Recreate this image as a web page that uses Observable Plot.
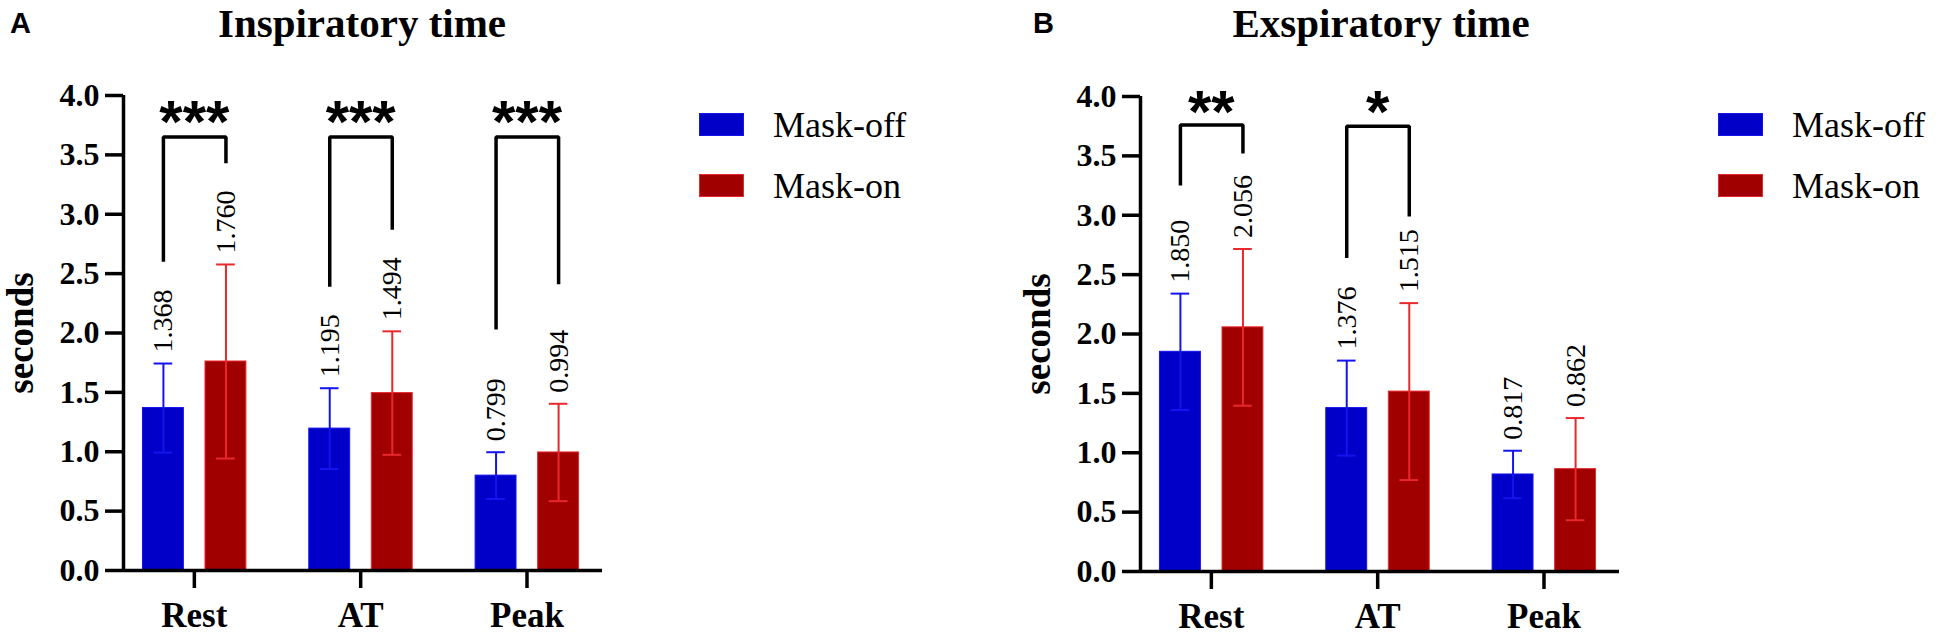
<!DOCTYPE html>
<html>
<head>
<meta charset="utf-8">
<script src="https://cdn.jsdelivr.net/npm/d3@7"></script>
<script src="https://cdn.jsdelivr.net/npm/@observablehq/plot@0.6"></script>
<style>
  html, body { margin: 0; padding: 0; background: #fff; }
  #root { position: relative; width: 1948px; height: 637px; background: #fff; overflow: hidden; }
  .abs { position: absolute; white-space: nowrap; line-height: 1; color: #000; }
  .title { font-family: "Liberation Serif", "Times New Roman", serif; font-weight: bold; font-size: 41px; line-height: 1.15; transform: translateX(-50%); }
  .letter { font-family: "Liberation Sans", Arial, sans-serif; font-weight: bold; font-size: 29px; }
  .legtext { font-family: "Liberation Serif", "Times New Roman", serif; font-size: 36px; }
  .swatch { position: absolute; width: 45px; height: 23px; box-sizing: border-box; }
  svg { position: absolute; }
</style>
</head>
<body>
<div id="root"></div>
<script>
// ---------- data ----------
const categories = ["Rest", "AT", "Peak"];
const groups = ["Mask-off", "Mask-on"];
const yTicks = [0, 0.5, 1, 1.5, 2, 2.5, 3, 3.5, 4];

// Inspiratory time (A)
const inspMaskOff   = [1.368, 1.195, 0.799];
const inspMaskOn    = [1.760, 1.494, 0.994];
const inspSdOff     = [0.375, 0.340, 0.197];
const inspSdOn      = [0.817, 0.520, 0.410];
const inspSig       = ["***", "***", "***"];
const inspBrTop     = [3.65, 3.65, 3.65];
const inspBrLeft    = [2.60, 2.39, 2.03];
const inspBrRight   = [3.43, 2.87, 2.41];
const inspStarY     = [3.90, 3.90, 3.90];

// Exspiratory time (B)
const expMaskOff    = [1.850, 1.376, 0.817];
const expMaskOn     = [2.056, 1.515, 0.862];
const expSdOff      = [0.490, 0.400, 0.200];
const expSdOn       = [0.660, 0.745, 0.430];
const expSig        = ["**", "*", null];
const expBrTop      = [3.76, 3.75, null];
const expBrLeft     = [3.25, 2.64, null];
const expBrRight    = [3.52, 2.99, null];
const expStarY      = [3.99, 3.99, null];

// ---------- styling ----------
const barFill = ["#0000c8", "#a00000"];
const errColor = ["#1414ee", "#e8282c"];
const serif = "Liberation Serif, Times New Roman, serif";
const sans = "Liberation Sans, Arial, sans-serif";
const groupOffset = [-0.186, 0.19];
const barHalf = 0.123;
const capHalf = 0.056;
const starFont = 60;

function panel(meanOff, meanOn, sdOff, sdOn, sig, brTop, brLeft, brRight, starY) {
  const rows = [];
  categories.forEach((c, i) => {
    rows.push({i, g: 0, mean: meanOff[i], sd: sdOff[i]});
    rows.push({i, g: 1, mean: meanOn[i], sd: sdOn[i]});
  });
  const pos = d => d.i + groupOffset[d.g];
  const bracket = [];
  const stars = [];
  categories.forEach((c, i) => {
    if (!sig[i]) return;
    const xl = i + groupOffset[0], xr = i + groupOffset[1];
    bracket.push({i, x: xl, y: brLeft[i]}, {i, x: xl, y: brTop[i]}, {i, x: xr, y: brTop[i]}, {i, x: xr, y: brRight[i]});
    stars.push({i, y: starY[i], s: sig[i]});
  });
  const xDomain = [-0.426, 2.454];
  return Plot.plot({
    width: 800,
    height: 637,
    marginLeft: 123,
    marginRight: 198,
    marginTop: 95,
    marginBottom: 67,
    style: {background: "transparent", color: "black", overflow: "visible"},
    x: {type: "linear", domain: xDomain},
    y: {domain: [0, 4]},
    marks: [
      Plot.rect(rows, {x1: d => pos(d) - barHalf, x2: d => pos(d) + barHalf, y1: 0, y2: "mean",
        fill: d => barFill[d.g], stroke: d => errColor[d.g], strokeWidth: 1}),
      Plot.ruleX(rows, {x: pos, y1: d => d.mean - d.sd, y2: d => d.mean + d.sd, stroke: d => errColor[d.g], strokeWidth: 2}),
      Plot.ruleY(rows, {y: d => d.mean + d.sd, x1: d => pos(d) - capHalf, x2: d => pos(d) + capHalf, stroke: d => errColor[d.g], strokeWidth: 2}),
      Plot.ruleY(rows, {y: d => d.mean - d.sd, x1: d => pos(d) - capHalf, x2: d => pos(d) + capHalf, stroke: d => errColor[d.g], strokeWidth: 2}),
      Plot.text(rows, {x: pos, y: d => d.mean + d.sd, text: d => d3.format(".3f")(d.mean),
        rotate: -90, textAnchor: "start", lineAnchor: "middle", dy: -11,
        fontSize: 28, fontFamily: serif, fill: "black"}),
      Plot.line(bracket, {x: "x", y: "y", z: "i", stroke: "black", strokeWidth: 3.5, strokeLinejoin: "miter", strokeLinecap: "butt"}),
      Plot.text(stars, {x: "i", y: "y", text: "s", fontSize: starFont, fontWeight: "bold", fontFamily: sans,
        lineAnchor: "middle", dy: 0.255 * starFont, fill: "black"}),
      Plot.ruleY([0], {stroke: "black", strokeWidth: 3.5}),
      Plot.ruleX([xDomain[0]], {y1: 0, y2: 4, stroke: "black", strokeWidth: 3.5}),
      Plot.axisY({ticks: yTicks, tickFormat: d3.format(".1f"), tickSize: 18, tickPadding: 6, label: null,
        fontSize: 32, fontWeight: "bold", fontFamily: serif, stroke: "black", strokeWidth: 3.5, fill: "black"}),
      Plot.axisX({ticks: [0, 1, 2], tickFormat: i => categories[i], tickSize: 18, tickPadding: 14, label: null,
        fontSize: 35, fontWeight: "bold", fontFamily: serif, stroke: "black", strokeWidth: 3.5, fill: "black"}),
      Plot.text(["seconds"], {frameAnchor: "left", text: d => d, rotate: -90, dx: -102, textAnchor: "middle", lineAnchor: "middle",
        fontSize: 37, fontWeight: "bold", fontFamily: serif, fill: "black"})
    ]
  });
}

const root = document.getElementById("root");
function addDiv(cls, text, left, top) {
  const d = document.createElement("div");
  d.className = "abs " + cls;
  d.textContent = text;
  d.style.left = left + "px";
  d.style.top = top + "px";
  root.appendChild(d);
  return d;
}
function addLegend(x0) {
  groups.forEach((g, k) => {
    const sw = document.createElement("div");
    sw.className = "swatch";
    sw.style.left = x0 + "px";
    sw.style.top = (113 + k * 61) + "px";
    sw.style.background = barFill[k];
    sw.style.border = "1px solid " + errColor[k];
    root.appendChild(sw);
    addDiv("legtext", g, x0 + 74, 107 + k * 61);
  });
}

const svgA = panel(inspMaskOff, inspMaskOn, inspSdOff, inspSdOn, inspSig, inspBrTop, inspBrLeft, inspBrRight, inspStarY);
svgA.style.left = "0px"; svgA.style.top = "0px";
root.appendChild(svgA);
const svgB = panel(expMaskOff, expMaskOn, expSdOff, expSdOn, expSig, expBrTop, expBrLeft, expBrRight, expStarY);
svgB.style.left = "1017px"; svgB.style.top = "1px";
root.appendChild(svgB);

addDiv("letter", "A", 10, 8.5);
addDiv("letter", "B", 1033, 8.5);
addDiv("title", "Inspiratory time", 362, 0);
addDiv("title", "Exspiratory time", 1381, 0);
addLegend(699);
addLegend(1718);
</script>
</body>
</html>
